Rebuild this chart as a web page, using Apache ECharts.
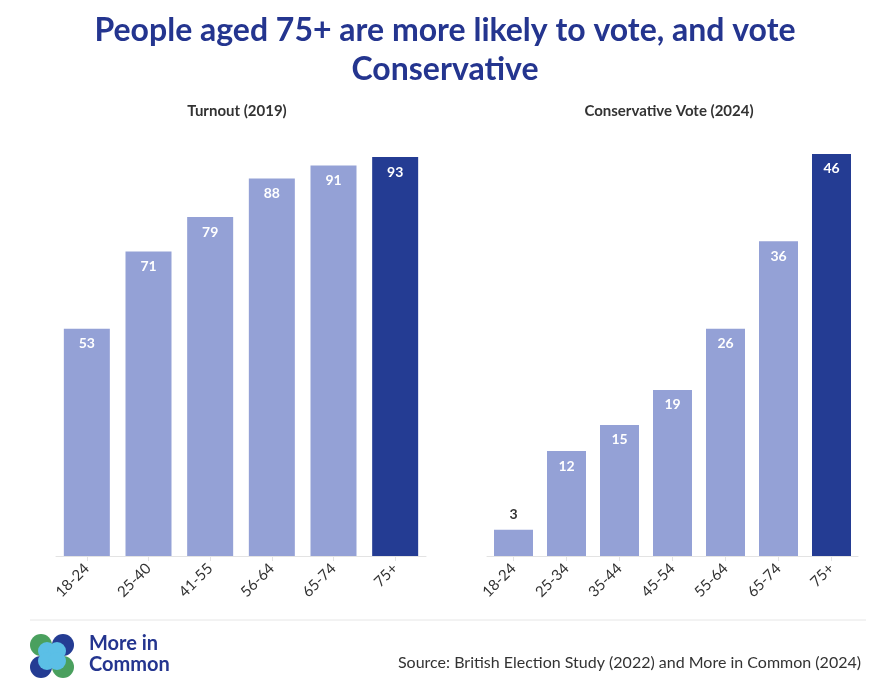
<!DOCTYPE html>
<html><head><meta charset="utf-8">
<script src="https://cdn.jsdelivr.net/npm/echarts@6/dist/echarts.min.js"></script>
<style>html,body{margin:0;background:#fff}#c{width:880px;height:696px}</style>
</head><body><div id="c"></div>
<script>
var turnoutAges = ["18-24", "25-40", "41-55", "56-64", "65-74", "75+"];
var turnout = [53, 71, 79, 88, 91, 93];
var conAges = ["18-24", "25-34", "35-44", "45-54", "55-64", "65-74", "75+"];
var conVote = [3, 12, 15, 19, 26, 36, 46];

var light = "#94a1d6", dark = "#243c93", navy = "#24358f";
var chart = echarts.init(document.getElementById("c"));

function bars(vals) {
  return vals.map(function (v, i) {
    var last = i === vals.length - 1;
    return {
      value: v,
      itemStyle: { color: last ? dark : light },
      label: { color: v < 6 ? "#333" : "#fff", position: v < 6 ? "top" : "insideTop" }
    };
  });
}
function xAxis(idx, data) {
  return {
    type: "category", gridIndex: idx, data: data,
    axisLine: { lineStyle: { color: "#e3e3e3" } },
    axisTick: { show: true, alignWithLabel: true, lineStyle: { color: "#e3e3e3" } },
    axisLabel: { rotate: 45, color: "#333", fontSize: 15, fontFamily: "Lato", margin: 10 }
  };
}
function yAxis(idx, max) {
  return { type: "value", gridIndex: idx, min: 0, max: max, show: false };
}
var lbl = { show: true, fontSize: 14, fontWeight: "bold", fontFamily: "Lato", distance: 8 };

chart.setOption({
  animation: false,
  title: [
    { text: "People aged 75+ are more likely to vote, and vote\nConservative", left: 440, top: 6,
      textAlign: "center", textStyle: { color: navy, fontSize: 32, fontWeight: "bold", fontFamily: "Lato", lineHeight: 39 } },
    { text: "Turnout (2019)", left: 232, top: 99, textAlign: "center",
      textStyle: { color: "#333", fontSize: 15, fontWeight: "bold", fontFamily: "Lato" } },
    { text: "Conservative Vote (2024)", left: 664, top: 99, textAlign: "center",
      textStyle: { color: "#333", fontSize: 15, fontWeight: "bold", fontFamily: "Lato" } },
    { text: "Source: British Election Study (2022) and More in Common (2024)", right: 14, top: 650,
      textStyle: { color: "#333", fontSize: 16, fontWeight: "normal", fontFamily: "Lato" } }
  ],
  grid: [
    { left: 56, width: 370, top: 127, bottom: 140 },
    { left: 487, width: 371, top: 119, bottom: 140 }
  ],
  xAxis: [xAxis(0, turnoutAges), xAxis(1, conAges)],
  yAxis: [yAxis(0, 100), yAxis(1, 50)],
  series: [
    { type: "bar", xAxisIndex: 0, yAxisIndex: 0, data: bars(turnout), barWidth: 46, label: lbl },
    { type: "bar", xAxisIndex: 1, yAxisIndex: 1, data: bars(conVote), barWidth: 39, label: lbl }
  ],
  graphic: [
    { type: "line", shape: { x1: 30, y1: 620, x2: 866, y2: 620 }, style: { stroke: "#e6e6e6", lineWidth: 1 } },
    { type: "circle", shape: { cx: 41, cy: 645, r: 11 }, style: { fill: "#4aa05e" } },
    { type: "circle", shape: { cx: 63, cy: 645, r: 11 }, style: { fill: "#243c93" } },
    { type: "circle", shape: { cx: 41, cy: 667, r: 11 }, style: { fill: "#243c93" } },
    { type: "circle", shape: { cx: 63, cy: 667, r: 11 }, style: { fill: "#4aa05e" } },
    { type: "circle", shape: { cx: 47, cy: 651, r: 9 }, style: { fill: "#5bbfe6" } },
    { type: "circle", shape: { cx: 57, cy: 651, r: 9 }, style: { fill: "#5bbfe6" } },
    { type: "circle", shape: { cx: 47, cy: 661, r: 9 }, style: { fill: "#5bbfe6" } },
    { type: "circle", shape: { cx: 57, cy: 661, r: 9 }, style: { fill: "#5bbfe6" } },
    { type: "text", left: 89, top: 633, style: { text: "More in\nCommon", fill: navy, font: "bold 20px Lato", lineHeight: 21 } }
  ]
});
</script></body></html>
